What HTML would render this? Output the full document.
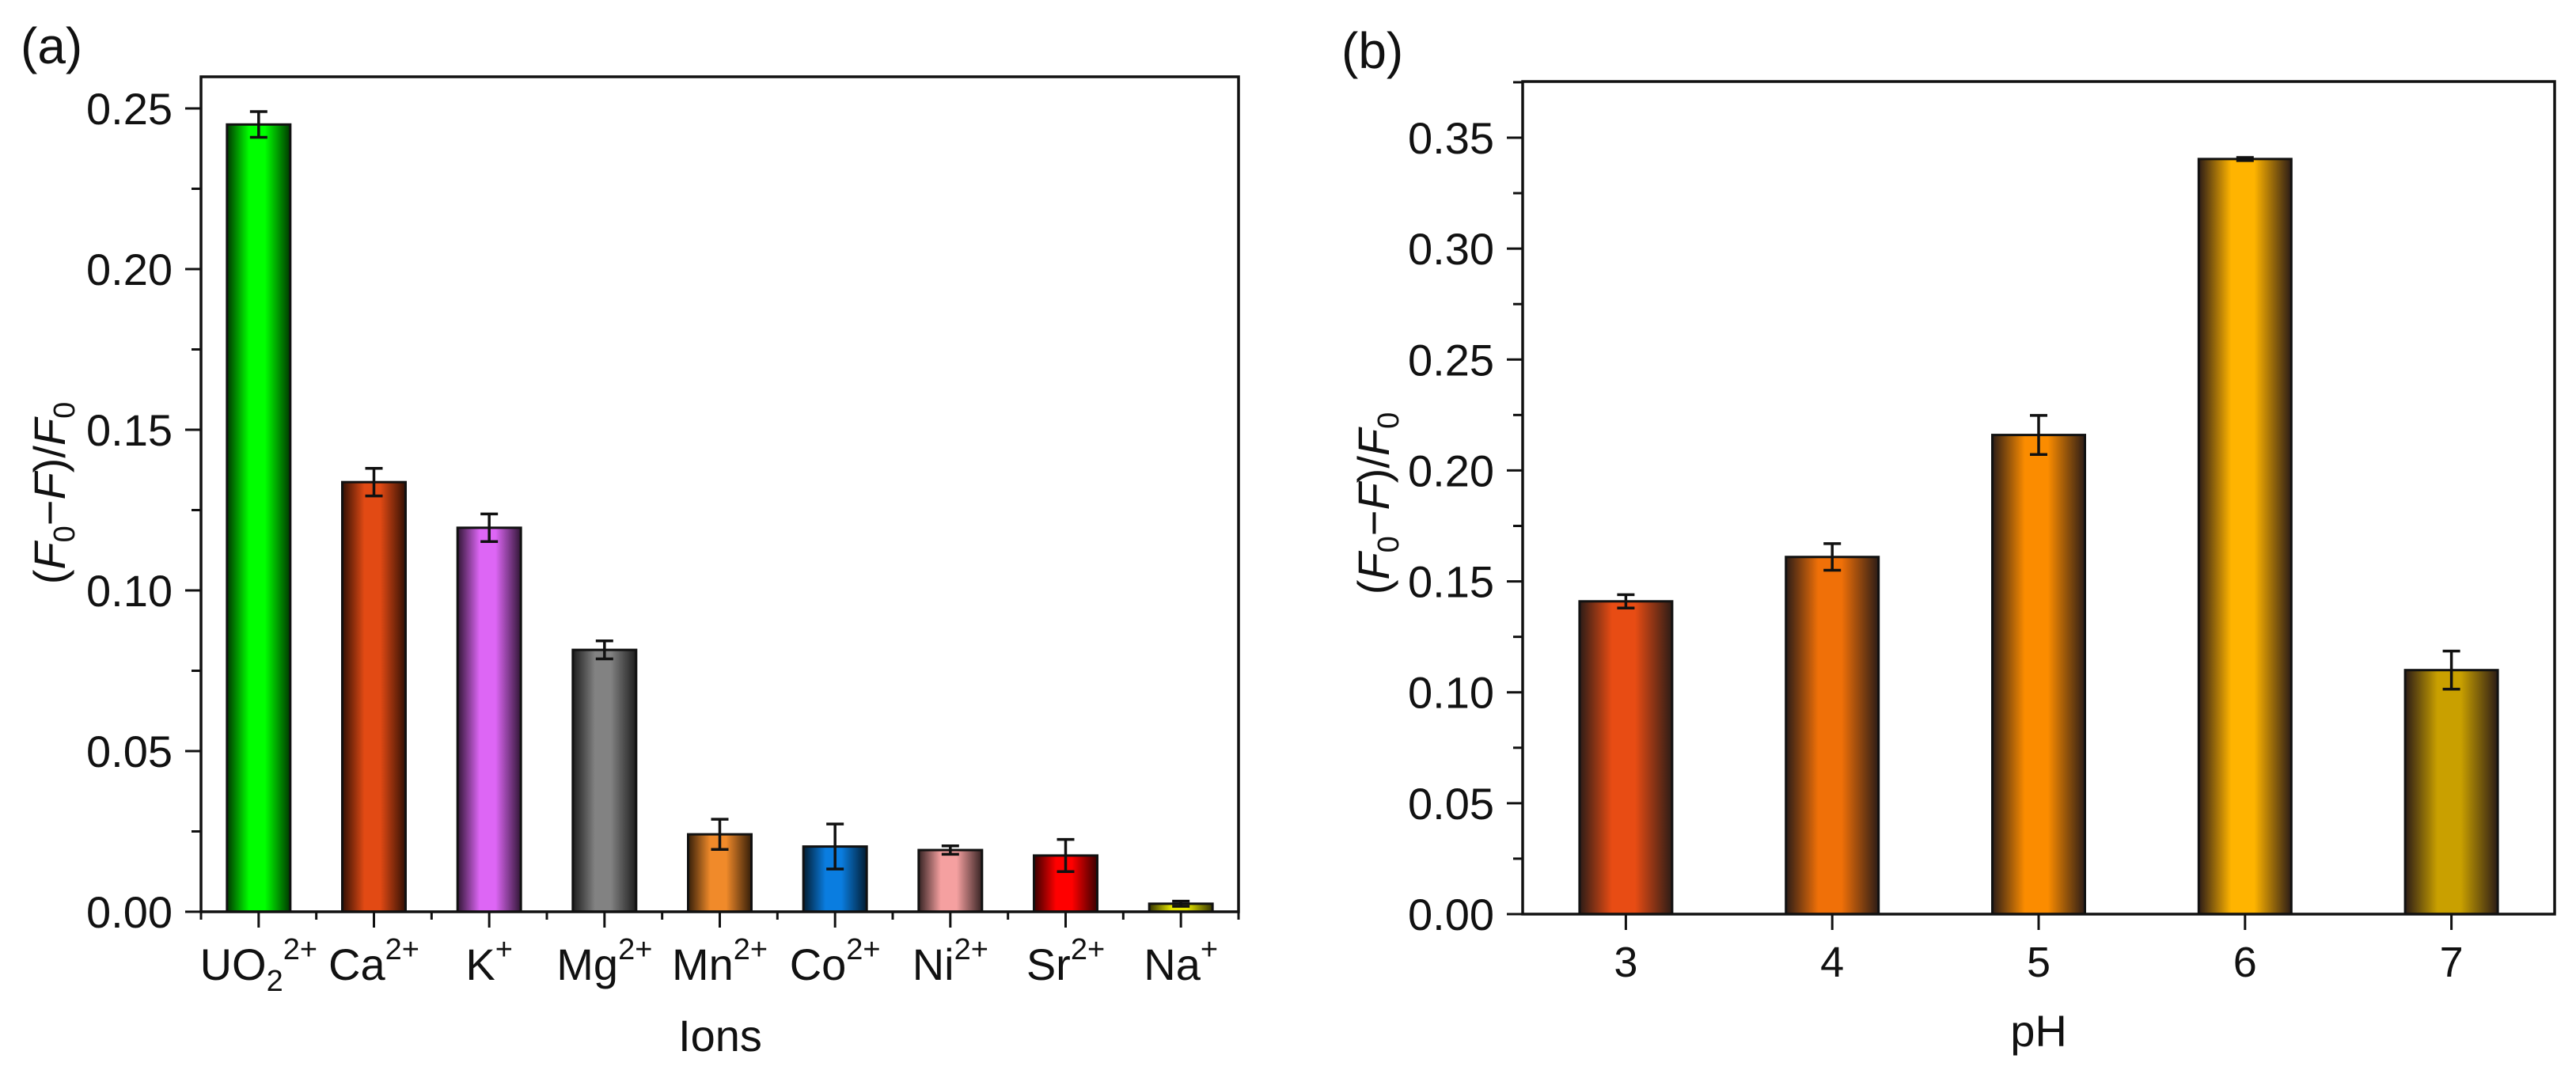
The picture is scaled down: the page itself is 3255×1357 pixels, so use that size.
<!DOCTYPE html>
<html><head><meta charset="utf-8"><style>
html,body{margin:0;padding:0;background:#fff;}
svg{display:block;font-family:"Liberation Sans",Arial,sans-serif;}
</style></head><body>
<svg id="fig" width="3255" height="1357" viewBox="0 0 3255 1357" xmlns="http://www.w3.org/2000/svg">
<defs id="defs"></defs>
<g id="pa"></g>
<g id="pb"></g>
</svg>
<script>
// Panel (a) data
const ionsCats = ["UO2","Ca","K","Mg","Mn","Co","Ni","Sr","Na"];
const ionsValues = [0.245, 0.1337, 0.1195, 0.0815, 0.0241, 0.0203, 0.0192, 0.0175, 0.0025];
const ionsErrors = [0.004, 0.0043, 0.0043, 0.0028, 0.0047, 0.007, 0.0013, 0.005, 0.0008];
const ionsColors = ["#00ff00","#e24a14","#dd66f5","#828282","#f08a2a","#0a7de0","#f5a0a0","#ff0000","#e6e600"];
const ionsTicks = [0, 0.05, 0.10, 0.15, 0.20, 0.25];
// Panel (b) data
const phCats = ["3","4","5","6","7"];
const phValues = [0.141, 0.161, 0.216, 0.3404, 0.110];
const phErrors = [0.003, 0.006, 0.0088, 0.0007, 0.0086];
const phColors = ["#e84c14","#f07008","#fb8c00","#ffb400","#c9a000"];
const phTicks = [0, 0.05, 0.10, 0.15, 0.20, 0.25, 0.30, 0.35];

const NS = "http://www.w3.org/2000/svg";
function mk(tag, attrs, parent){const e=document.createElementNS(NS,tag);for(const k in attrs)e.setAttribute(k,attrs[k]);parent.appendChild(e);return e;}
const defs=document.getElementById('defs');
let gid=0;
function grad(color, dark){
  const id='g'+(gid++);
  const g=mk('linearGradient',{id:id,x1:'0',x2:'1',y1:'0',y2:'0'},defs);
  mk('stop',{offset:'0','stop-color':dark},g);
  mk('stop',{offset:'0.35','stop-color':color},g);
  mk('stop',{offset:'0.6','stop-color':color},g);
  mk('stop',{offset:'1','stop-color':dark},g);
  return id;
}
function darken(hex,f){const n=parseInt(hex.slice(1),16);const r=(n>>16)&255,g=(n>>8)&255,b=n&255;return `rgb(${Math.round(r*f)},${Math.round(g*f)},${Math.round(b*f)})`;}

function drawPanel(cfg){
  const root=document.getElementById(cfg.id);
  const {L,R,T,B,ymax,cats,vals,errs,cols,ticks,barW,minorX}=cfg;
  const n=cats.length, step=(R-L)/n;
  const xs=i=>L+step*(i+0.5);
  const ys=v=>B-(v/ymax)*(B-cfg.Ytop);
  for(let i=0;i<n;i++){
    const dark=cfg.darkFixed?cfg.darkFixed:darken(cols[i],0.22);
    const id=grad(cols[i],dark);
    const r=mk('rect',{x:xs(i)-barW/2,y:ys(vals[i]),width:barW,height:B-ys(vals[i]),fill:`url(#${id})`,stroke:'#111','stroke-width':3},root);
    
    
    const g=mk('g',{stroke:'#111','stroke-width':3.5,fill:'none'},root);
    
    
    const y1=ys(vals[i]+errs[i]), y2=ys(vals[i]-errs[i]), cx=xs(i), cw=11;
    mk('line',{x1:cx,x2:cx,y1:y1,y2:y2},g);
    mk('line',{x1:cx-cw,x2:cx+cw,y1:y1,y2:y1},g);
    mk('line',{x1:cx-cw,x2:cx+cw,y1:y2,y2:y2},g);
  }
  const fr=mk('rect',{x:L,y:T,width:R-L,height:B-T,fill:'none',stroke:'#111','stroke-width':3.5},root);
  
  
  const yt=mk('g',{stroke:'#111','stroke-width':3},root);
  
  
  for(let k=0;k<ticks.length;k++){
    const y=ys(ticks[k]);
    mk('line',{x1:L-20,x2:L,y1:y,y2:y},yt);
    const t=mk('text',{x:L-36,y:y+20,'text-anchor':'end','font-size':56,fill:'#111',stroke:'none'},root);
    t.textContent=ticks[k].toFixed(2);
    
    
    if(k<ticks.length-1){const ym=ys((ticks[k]+ticks[k+1])/2);mk('line',{x1:L-12,x2:L,y1:ym,y2:ym},yt);}
  }
  const ylast=ys(ticks[ticks.length-1]+(ticks[1]-ticks[0])/2);
  if(ylast>T) mk('line',{x1:L-12,x2:L,y1:ylast,y2:ylast},yt);
  const xt=mk('g',{stroke:'#111','stroke-width':3},root);
  
  
  for(let i=0;i<n;i++){
    mk('line',{x1:xs(i),x2:xs(i),y1:B,y2:B+20},xt);
    if(minorX){mk('line',{x1:L+step*i,x2:L+step*i,y1:B,y2:B+10},xt);}
  }
  if(minorX) mk('line',{x1:R,x2:R,y1:B,y2:B+10},xt);
  for(let i=0;i<n;i++){
    const t=mk('text',{x:xs(i),y:cfg.labelY,'text-anchor':'middle','font-size':cfg.labelSize,fill:'#111'},root);
    
    
    cfg.labelFn(t,cats[i]);
  }
}
function ionLabel(t,c){
  const sup={UO2:'2+',Ca:'2+',K:'+',Mg:'2+',Mn:'2+',Co:'2+',Ni:'2+',Sr:'2+',Na:'+'}[c];
  if(c==='UO2'){
    t.appendChild(document.createTextNode('UO'));
    const s=document.createElementNS(NS,'tspan');s.setAttribute('font-size','38');s.setAttribute('dy','14');s.textContent='2';t.appendChild(s);
    const p=document.createElementNS(NS,'tspan');p.setAttribute('font-size','38');p.setAttribute('dy','-40');p.textContent=sup;t.appendChild(p);
  } else {
    t.appendChild(document.createTextNode(c));
    const p=document.createElementNS(NS,'tspan');p.setAttribute('font-size','38');p.setAttribute('dy','-26');p.textContent=sup;t.appendChild(p);
  }
}
drawPanel({id:'pa',L:254,R:1565,T:97,B:1152,Ytop:137,ymax:0.25,cats:ionsCats,vals:ionsValues,errs:ionsErrors,cols:ionsColors,ticks:ionsTicks,barW:80,minorX:true,labelY:1238,labelSize:56,labelFn:ionLabel});
drawPanel({id:'pb',L:1924,R:3228,T:103,B:1155,Ytop:174,ymax:0.35,cats:phCats,vals:phValues,errs:phErrors,cols:phColors,ticks:phTicks,barW:117,minorX:false,darkFixed:'#2c1c16',labelY:1234,labelSize:54,labelFn:(t,c)=>{t.textContent=c;}});

const fig=document.getElementById('fig');
function yTitle(x,y,name){
  const t=mk('text',{transform:`translate(${x},${y}) rotate(-90)`,'text-anchor':'middle','font-size':56,fill:'#111'},fig);
  
  
  t.innerHTML='(<tspan font-style="italic">F</tspan><tspan font-size="38" dy="12">0</tspan><tspan dy="-12">−</tspan><tspan font-style="italic">F</tspan>)/<tspan font-style="italic">F</tspan><tspan font-size="38" dy="12">0</tspan>';
}
yTitle(82,623,'y-axis-title-a');
yTitle(1755,636,'y-axis-title-b');
function txt(x,y,s,size,name,anchor){const t=mk('text',{x:x,y:y,'font-size':size,fill:'#111','text-anchor':anchor||'middle'},fig);t.textContent=s;}
txt(910,1328,'Ions',56,'x-axis-title-a');
txt(2576,1322,'pH',56,'x-axis-title-b');
txt(26,80,'(a)',64,'panel-label-a','start');
txt(1695,86,'(b)',64,'panel-label-b','start');
</script>
</body></html>
